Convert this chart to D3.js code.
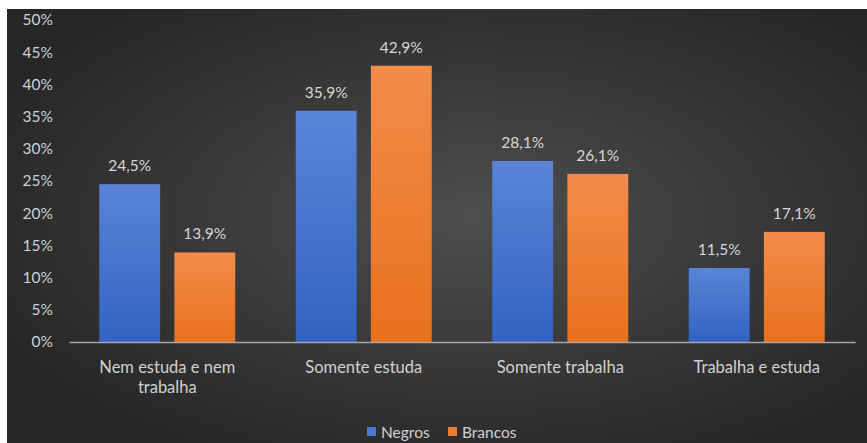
<!DOCTYPE html>
<html>
<head>
<meta charset="utf-8">
<script src="https://cdn.jsdelivr.net/npm/d3@7"></script>
<style>
  html, body { margin: 0; padding: 0; background: #ffffff; }
  svg { display: block; }
  text { font-family: Lato, "Open Sans", sans-serif; }
</style>
</head>
<body>
<svg id="chart" width="867" height="443"></svg>
<script>
// Situação de estudo e trabalho por cor/raça
const categories = [["Nem estuda e nem", "trabalha"], ["Somente estuda"], ["Somente trabalha"], ["Trabalha e estuda"]];
const seriesNames = ["Negros", "Brancos"];
const negros = [24.5, 35.9, 28.1, 11.5];
const brancos = [13.9, 42.9, 26.1, 17.1];
const yTicks = [0, 5, 10, 15, 20, 25, 30, 35, 40, 45, 50];

const svg = d3.select("#chart");
const W = 867, H = 443;

const defs = svg.append("defs");
const bg = defs.append("radialGradient").attr("id", "bg")
  .attr("cx", "54%").attr("cy", "48%").attr("r", "62%");
bg.append("stop").attr("offset", "0%").attr("stop-color", "#4e4e4e");
bg.append("stop").attr("offset", "100%").attr("stop-color", "#262626");

const blueGrad = defs.append("linearGradient").attr("id", "gBlue")
  .attr("x1", 0).attr("y1", 0).attr("x2", 0).attr("y2", 1);
blueGrad.append("stop").attr("offset", "0%").attr("stop-color", "#5a84d6");
blueGrad.append("stop").attr("offset", "100%").attr("stop-color", "#3262c2");
const orangeGrad = defs.append("linearGradient").attr("id", "gOrange")
  .attr("x1", 0).attr("y1", 0).attr("x2", 0).attr("y2", 1);
orangeGrad.append("stop").attr("offset", "0%").attr("stop-color", "#f38c4a");
orangeGrad.append("stop").attr("offset", "100%").attr("stop-color", "#e8711c");

// chart panel
svg.append("rect").attr("x", 7).attr("y", 9).attr("width", W - 7).attr("height", H - 9)
  .attr("fill", "url(#bg)");

const y = d3.scaleLinear().domain([0, 50]).range([342, 20]);
const x0 = d3.scaleBand().domain(d3.range(categories.length)).range([69, 855])
  .paddingInner(0.308).paddingOuter(0.154);
const x1 = d3.scaleBand().domain(seriesNames).range([0, x0.bandwidth()]).paddingInner(0.19);

const fills = { "Negros": "url(#gBlue)", "Brancos": "url(#gOrange)" };
const legendColors = { "Negros": "#4a78d4", "Brancos": "#ef7d2e" };
const values = { "Negros": negros, "Brancos": brancos };

// y axis labels
const yAxis = d3.axisLeft(y).tickValues(yTicks).tickSize(0).tickPadding(0)
  .tickFormat(d => d + "%");
const gy = svg.append("g").attr("transform", "translate(53,0)").call(yAxis);
gy.select(".domain").remove();
gy.selectAll("text").attr("fill", "#d0d0d0").attr("font-size", 15.5)
  .attr("font-family", "Lato, 'Open Sans', sans-serif");

// bars
const groups = svg.append("g").selectAll("g").data(d3.range(categories.length)).join("g")
  .attr("transform", i => `translate(${x0(i)},0)`);

groups.selectAll("rect").data(i => seriesNames.map(s => ({ s, v: values[s][i] }))).join("rect")
  .attr("x", d => x1(d.s)).attr("width", x1.bandwidth())
  .attr("y", d => y(d.v)).attr("height", d => y(0) - y(d.v))
  .attr("fill", d => fills[d.s]);

groups.selectAll("text.val").data(i => seriesNames.map(s => ({ s, v: values[s][i] }))).join("text")
  .attr("class", "val")
  .attr("x", d => x1(d.s) + x1.bandwidth() / 2)
  .attr("y", d => y(d.v) - 13)
  .attr("text-anchor", "middle").attr("font-size", 15.5).attr("fill", "#d6d6d6")
  .text(d => d.v.toFixed(1).replace(".", ",") + "%");

// x axis baseline and category labels
const xAxis = d3.axisBottom(x0).tickSize(0).tickPadding(0).tickFormat("");
const gx = svg.append("g").attr("transform", `translate(0,${y(0)})`).call(xAxis);
gx.select(".domain").attr("stroke", "#a6a6a6").attr("stroke-width", 1.5);

gx.selectAll(".tick").append("text")
  .attr("text-anchor", "middle").attr("font-size", 16.5).attr("fill", "#d0d0d0")
  .selectAll("tspan").data(i => categories[i]).join("tspan")
  .attr("x", 0).attr("y", (d, k) => 31 + k * 20)
  .text(d => d);

// legend
const legend = svg.append("g").attr("transform", "translate(367,432)");
const lx = [0, 81];
seriesNames.forEach((s, k) => {
  const g = legend.append("g").attr("transform", `translate(${lx[k]},0)`);
  g.append("rect").attr("x", 0).attr("y", -5).attr("width", 9).attr("height", 9)
    .attr("fill", legendColors[s]);
  g.append("text").attr("x", 14).attr("y", 5.5).attr("font-size", 15.5)
    .attr("fill", "#d0d0d0").text(s);
});
</script>
</body>
</html>
